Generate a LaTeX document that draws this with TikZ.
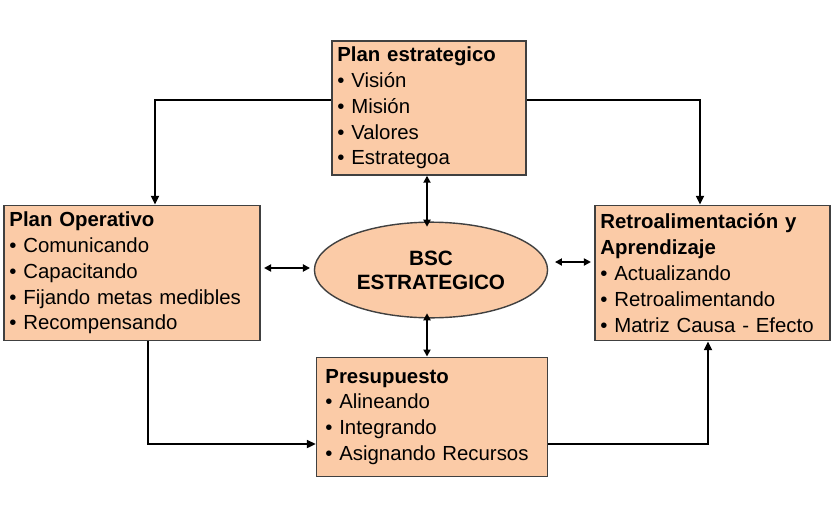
\documentclass[tikz,border=0pt]{standalone}
\usepackage{fontspec}
\setmainfont{Liberation Sans}
\usetikzlibrary{positioning, arrows.meta, shapes.geometric}

\definecolor{peach}{HTML}{FBCBA7}

\begin{document}
\begin{tikzpicture}[
    x=0.02cm, y=-0.02cm,
    box/.style={rectangle, draw=black!75, line width=0.8pt, fill=peach,
                align=left, inner xsep=3pt, font=\fontsize{11.6}{14.7}\selectfont},
    oval/.style={ellipse, draw=black!75, line width=0.8pt, fill=peach,
                 align=center, font=\fontsize{11.8}{13.6}\selectfont\bfseries},
    arrow/.style={-{Triangle[length=5pt, width=4.5pt]}, line width=1.1pt},
    both/.style={{Triangle[length=4pt, width=4pt]}-{Triangle[length=4pt, width=4pt]}, line width=1.1pt}
]
    \useasboundingbox (0,0) rectangle (838,514);

    % Boxes
    \node[box, minimum width=192*0.567pt, minimum height=128*0.567pt, text width=184*0.567pt] (plan) at (429,108)
        {\textbf{Plan estrategico}\\ • Visión\\ • Misión\\ • Valores\\ • Estrategoa};
    \node[box, minimum width=256*0.567pt, minimum height=136*0.567pt, text width=246*0.567pt] (oper) at (132,273)
        {\textbf{Plan Operativo}\\ • Comunicando\\ • Capacitando\\ • Fijando metas medibles\\ • Recompensando};
    \node[box, minimum width=233*0.567pt, minimum height=136*0.567pt, text width=225*0.567pt] (retro) at (712.5,273)
        {\textbf{Retroalimentación y}\\ \textbf{Aprendizaje}\\ • Actualizando\\ • Retroalimentando\\ • Matriz Causa - Efecto};
    \node[box, minimum width=232*0.567pt, minimum height=120*0.567pt, text width=214*0.567pt] (pres) at (432,417)
        {\textbf{Presupuesto}\\ • Alineando\\ • Integrando\\ • Asignando Recursos};

    % Center
    \node[oval, minimum width=234*0.567pt, minimum height=96*0.567pt] (bsc) at (431,270) {BSC\\ESTRATEGICO};

    % Loop connectors
    \coordinate (c1) at (155,100);
    \coordinate (c2) at (700,100);
    \coordinate (c3) at (148,444);
    \coordinate (c4) at (708,444);
    \draw[arrow] (plan.west |- c1) -| (oper.north -| c1);
    \draw[arrow] (plan.east |- c2) -| (retro.north -| c2);
    \draw[arrow] (oper.south -| c3) |- (pres.west |- c3);
    \draw[arrow] (pres.east |- c4) -| (retro.south -| c4);

    % Links to center
    \coordinate (m1) at (427,0);
    \coordinate (m2) at (0,268);
    \coordinate (m3) at (0,262);
    \draw[both] (plan.south -| m1) -- ([yshift=-3pt]bsc.north -| m1);
    \draw[both] ([yshift=3pt]bsc.south -| m1) -- (pres.north -| m1);
    \draw[both] ([xshift=2pt]oper.east |- m2) -- ++(46,0);
    \draw[both] ([xshift=-2pt]retro.west |- m3) -- ++(-36,0);

\end{tikzpicture}
\end{document}
